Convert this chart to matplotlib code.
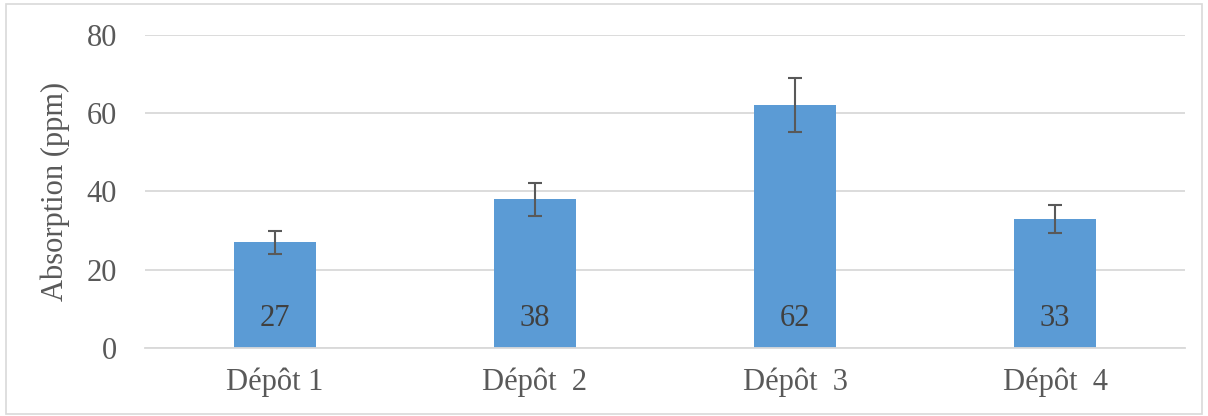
import matplotlib
matplotlib.use("Agg")
import matplotlib.pyplot as plt
from matplotlib.patches import Rectangle

categories = ["Dépôt 1", "Dépôt  2", "Dépôt  3", "Dépôt  4"]
values = [27, 38, 62, 33]
errors = [3.0, 4.2, 6.9, 3.6]

TXT = "#595959"
GRID = "#d9d9d9"
BAR = "#5b9bd5"

plt.rcParams["font.family"] = ["Liberation Serif", "DejaVu Serif"]

fig = plt.figure(figsize=(12.08, 4.16), dpi=100)
ax = fig.add_axes([0.12, 0.1635, 0.861, 0.7524])

x = list(range(len(categories)))
ax.bar(x, values, width=0.315, color=BAR, zorder=2)
ax.errorbar(x, values, yerr=errors, fmt="none", ecolor=TXT,
            elinewidth=1.5, capsize=5, capthick=1.5, zorder=3)

for xi, v in zip(x, values):
    ax.annotate(f"{v}", (xi, 0), xytext=(0, 21), textcoords="offset points",
                ha="center", va="center", fontsize=22, color="#404040", zorder=4)

ax.set_xlim(-0.5, len(categories) - 0.5)
ax.set_ylim(0, 80)
ax.set_yticks([0, 20, 40, 60, 80])
ax.set_xticks(x)
ax.set_xticklabels(categories)
ax.tick_params(axis="both", length=0, labelsize=22, colors=TXT)
ax.tick_params(axis="y", pad=20)
ax.tick_params(axis="x", pad=14)
ax.yaxis.grid(True, color=GRID, linewidth=1.3, zorder=0)
ax.set_axisbelow(True)
for s in ["top", "right", "left"]:
    ax.spines[s].set_visible(False)
ax.spines["bottom"].set_color(GRID)
ax.spines["bottom"].set_linewidth(1.3)
ax.set_ylabel("Absorption (ppm)", fontsize=22, color=TXT, labelpad=12)

fig.patches.append(Rectangle((0.005, 0.005), 0.99, 0.985, transform=fig.transFigure,
                             fill=False, edgecolor=GRID, linewidth=1.2))

fig.savefig("out.png", dpi=100)
